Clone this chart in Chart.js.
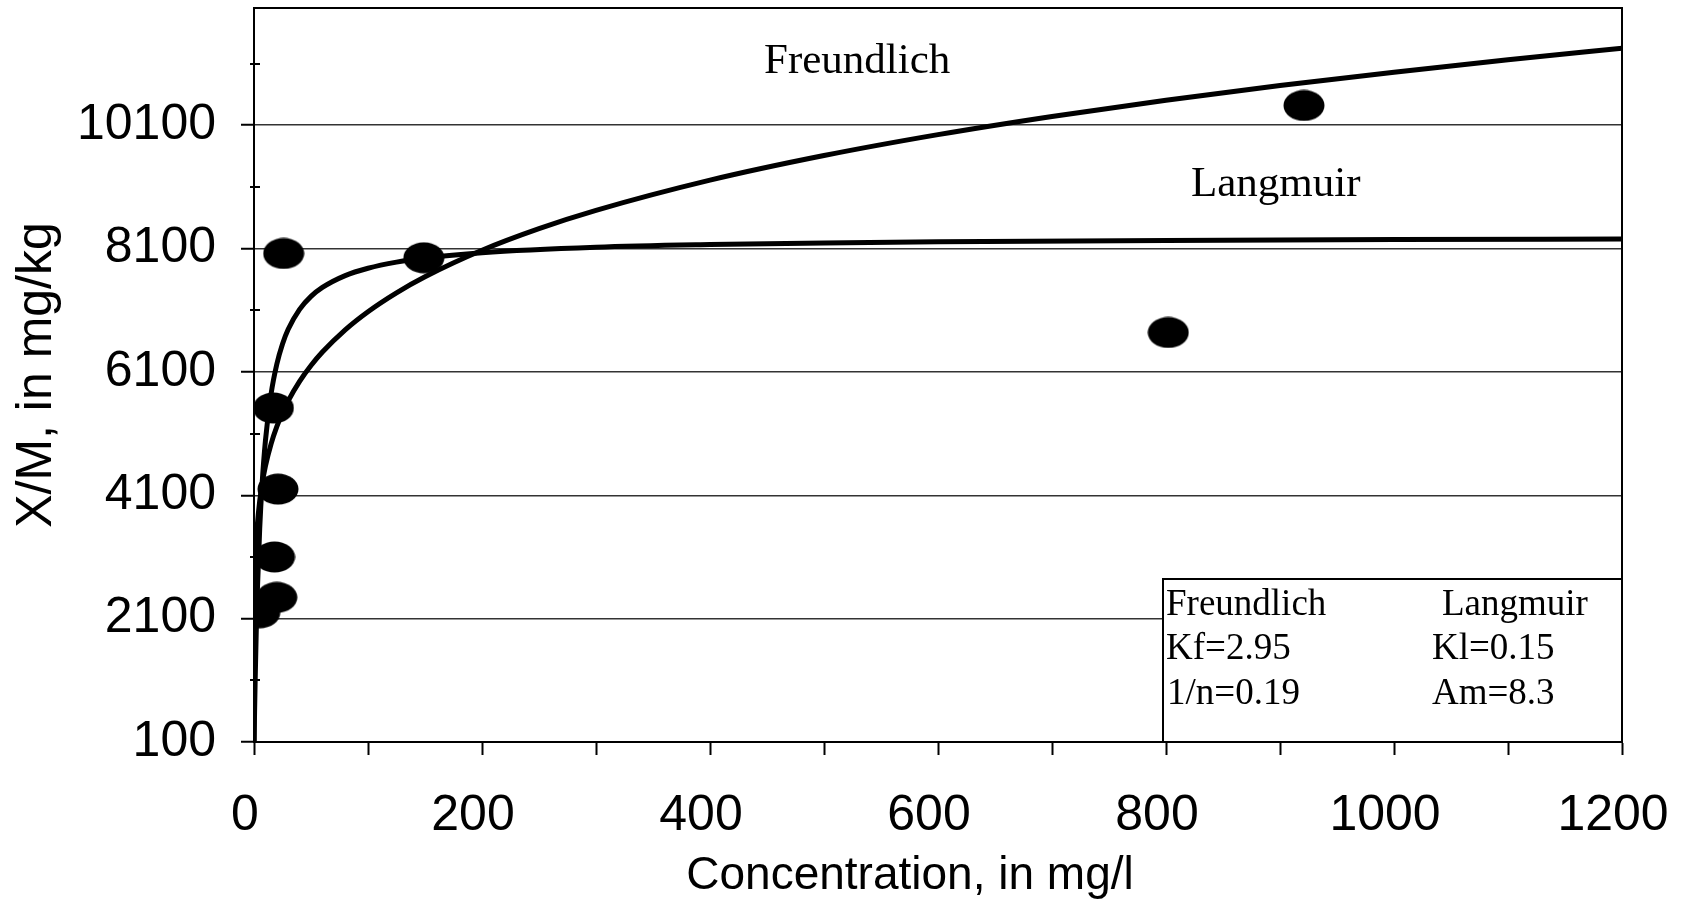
<!DOCTYPE html>
<html>
<head>
<meta charset="utf-8">
<script src="https://cdn.jsdelivr.net/npm/chart.js@4.4.1/dist/chart.umd.min.js"></script>
<style>
  html, body { margin: 0; padding: 0; background: #ffffff; }
  #wrap { width: 1684px; height: 902px; position: relative; }
</style>
</head>
<body>
<div id="wrap"><canvas id="c"></canvas></div>
<script>
// ---------- data ----------
const sampleConc = [26, 149, 17, 21, 18, 20, 5, 802, 921];
const sampleXM   = [8020, 7950, 5515, 4200, 3100, 2445, 2195, 6740, 10420];

const freundlichConc = [0, 0.001, 0.01, 0.1, 0.5, 1, 2, 3, 5, 7, 10, 15, 20, 25, 30, 40, 50, 60, 80, 100, 125, 150, 200, 250, 300, 400, 500, 600, 700, 800, 900, 1000, 1100, 1200];
const freundlichXM   = [0, 794, 1230, 1905, 2586, 2950, 3365, 3635, 4005, 4270, 4569, 4934, 5212, 5438, 5630, 5946, 6203, 6422, 6783, 7077, 7383, 7643, 8073, 8423, 8719, 9209, 9608, 9947, 10242, 10506, 10743, 10960, 11161, 11347];

const langmuirConc = [0, 0.5, 1, 2, 3, 5, 7, 10, 15, 20, 25, 30, 40, 50, 60, 80, 100, 125, 150, 200, 300, 400, 500, 600, 800, 1000, 1200];
const langmuirXM   = [0, 579, 1083, 1915, 2576, 3557, 4251, 4980, 5746, 6225, 6553, 6791, 7114, 7324, 7470, 7662, 7781, 7880, 7947, 8032, 8120, 8164, 8191, 8209, 8231, 8245, 8254];

const yTickValues  = [100, 2100, 4100, 6100, 8100, 10100];
const yMinorTicks  = [1100, 3100, 5100, 7100, 9100, 11100];
const xTickValues  = [0, 100, 200, 300, 400, 500, 600, 700, 800, 900, 1000, 1100, 1200];
const xLabelValues = [0, 200, 400, 600, 800, 1000, 1200];

const xTitle = 'Concentration, in mg/l';
const yTitle = 'X/M, in mg/kg';
const curveLabels = ['Freundlich', 'Langmuir'];
const boxHeaders = ['Freundlich', 'Langmuir'];
const freundlichParams = ['Kf=2.95', '1/n=0.19'];
const langmuirParams = ['Kl=0.15', 'Am=8.3'];

// ---------- styles ----------
const SANS = "'Liberation Sans', Arial, sans-serif";
const SERIF = "'Liberation Serif', 'Times New Roman', serif";

// elliptical marker
const marker = document.createElement('canvas');
marker.width = 42; marker.height = 32;
(function () {
  const m = marker.getContext('2d');
  m.fillStyle = '#000';
  m.beginPath();
  m.ellipse(21, 16, 20.5, 15.5, 0, 0, Math.PI * 2);
  m.fill();
})();

const toXY = (xs, ys) => xs.map((x, i) => ({ x: x, y: ys[i] }));

const decorPlugin = {
  id: 'decor',
  afterDraw(chart) {
    const ctx = chart.ctx;
    const a = chart.chartArea;
    const ys = chart.scales.y;
    ctx.save();
    // top & right frame
    ctx.strokeStyle = '#000';
    ctx.lineWidth = 2;
    ctx.beginPath();
    ctx.moveTo(a.left, a.top);
    ctx.lineTo(a.right, a.top);
    ctx.lineTo(a.right, a.bottom);
    ctx.stroke();
    // minor y ticks crossing the axis
    ctx.beginPath();
    yMinorTicks.forEach(v => {
      const py = Math.round(ys.getPixelForValue(v));
      ctx.moveTo(a.left - 4, py);
      ctx.lineTo(a.left + 6, py);
    });
    ctx.stroke();

    // parameter box
    const bx = 1163, by = 579, bw = a.right - 1163, bh = a.bottom - 579;
    ctx.fillStyle = '#fff';
    ctx.fillRect(bx, by, bw, bh);
    ctx.strokeRect(bx, by, bw, bh);

    ctx.fillStyle = '#000';
    ctx.textBaseline = 'alphabetic';
    ctx.textAlign = 'left';
    ctx.font = '37px ' + SERIF;
    ctx.fillText(boxHeaders[0], 1166, 615);
    ctx.fillText(boxHeaders[1], 1442, 615);
    ctx.fillText(freundlichParams[0], 1166, 659);
    ctx.fillText(langmuirParams[0], 1432, 659);
    ctx.fillText(freundlichParams[1], 1167, 704);
    ctx.fillText(langmuirParams[1], 1432, 704);

    // curve labels
    ctx.font = '43px ' + SERIF;
    ctx.fillText(curveLabels[0], 764, 73);
    ctx.fillText(curveLabels[1], 1191, 196);

    // x axis title
    ctx.font = '46px ' + SANS;
    ctx.textAlign = 'center';
    ctx.fillText(xTitle, 910, 889);
    ctx.restore();
  }
};

new Chart(document.getElementById('c'), {
  type: 'scatter',
  data: {
    datasets: [
      {
        label: 'Measured',
        data: toXY(sampleConc, sampleXM),
        pointStyle: marker,
        pointRadius: 18,
        backgroundColor: '#000',
        borderColor: '#000',
        showLine: false
      },
      {
        label: 'Freundlich',
        data: toXY(freundlichConc, freundlichXM),
        showLine: true,
        borderColor: '#000',
        borderWidth: 5,
        pointRadius: 0,
        cubicInterpolationMode: 'monotone'
      },
      {
        label: 'Langmuir',
        data: toXY(langmuirConc, langmuirXM),
        showLine: true,
        borderColor: '#000',
        borderWidth: 5,
        pointRadius: 0,
        cubicInterpolationMode: 'monotone'
      }
    ]
  },
  options: {
    responsive: true,
    maintainAspectRatio: false,
    devicePixelRatio: 1,
    animation: false,
    events: [],
    layout: { autoPadding: false, padding: { top: 8, right: 62, left: 0, bottom: 0 } },
    plugins: { legend: { display: false }, tooltip: { enabled: false } },
    scales: {
      x: {
        type: 'linear',
        min: 0, max: 1200,
        afterBuildTicks: s => { s.ticks = xTickValues.map(v => ({ value: v })); },
        afterFit: s => { s.height = 160; s.paddingLeft = 0; s.paddingRight = 0; },
        border: { display: true, color: '#000', width: 2 },
        grid: { drawOnChartArea: false, drawTicks: true, tickLength: 13, tickColor: '#000', tickWidth: 2 },
        ticks: {
          autoSkip: false, maxRotation: 0, minRotation: 0,
          padding: 31, labelOffset: -9,
          color: '#000',
          font: { family: SANS, size: 50 },
          callback: v => xLabelValues.includes(v) ? String(v) : ''
        },
        title: { display: false }
      },
      y: {
        type: 'linear',
        min: 100, max: 12000,
        afterBuildTicks: s => { s.ticks = yTickValues.map(v => ({ value: v })); },
        afterFit: s => { s.width = 254; s.paddingTop = 0; s.paddingBottom = 0; },
        border: { display: true, color: '#000', width: 2 },
        grid: {
          drawOnChartArea: true,
          color: c => (c.tick && c.tick.value === 100) ? 'rgba(0,0,0,0)' : '#333',
          lineWidth: 1.5,
          borderDash: [2, 2],
          drawTicks: true, tickLength: 13, tickColor: '#000', tickWidth: 2
        },
        ticks: {
          padding: 25,
          color: '#000',
          font: { family: SANS, size: 50 },
          callback: v => String(v)
        },
        title: {
          display: true,
          text: yTitle,
          color: '#000',
          font: { family: SANS, size: 50 },
          padding: { top: 7, bottom: 0 }
        }
      }
    }
  },
  plugins: [decorPlugin]
});
</script>
</body>
</html>
